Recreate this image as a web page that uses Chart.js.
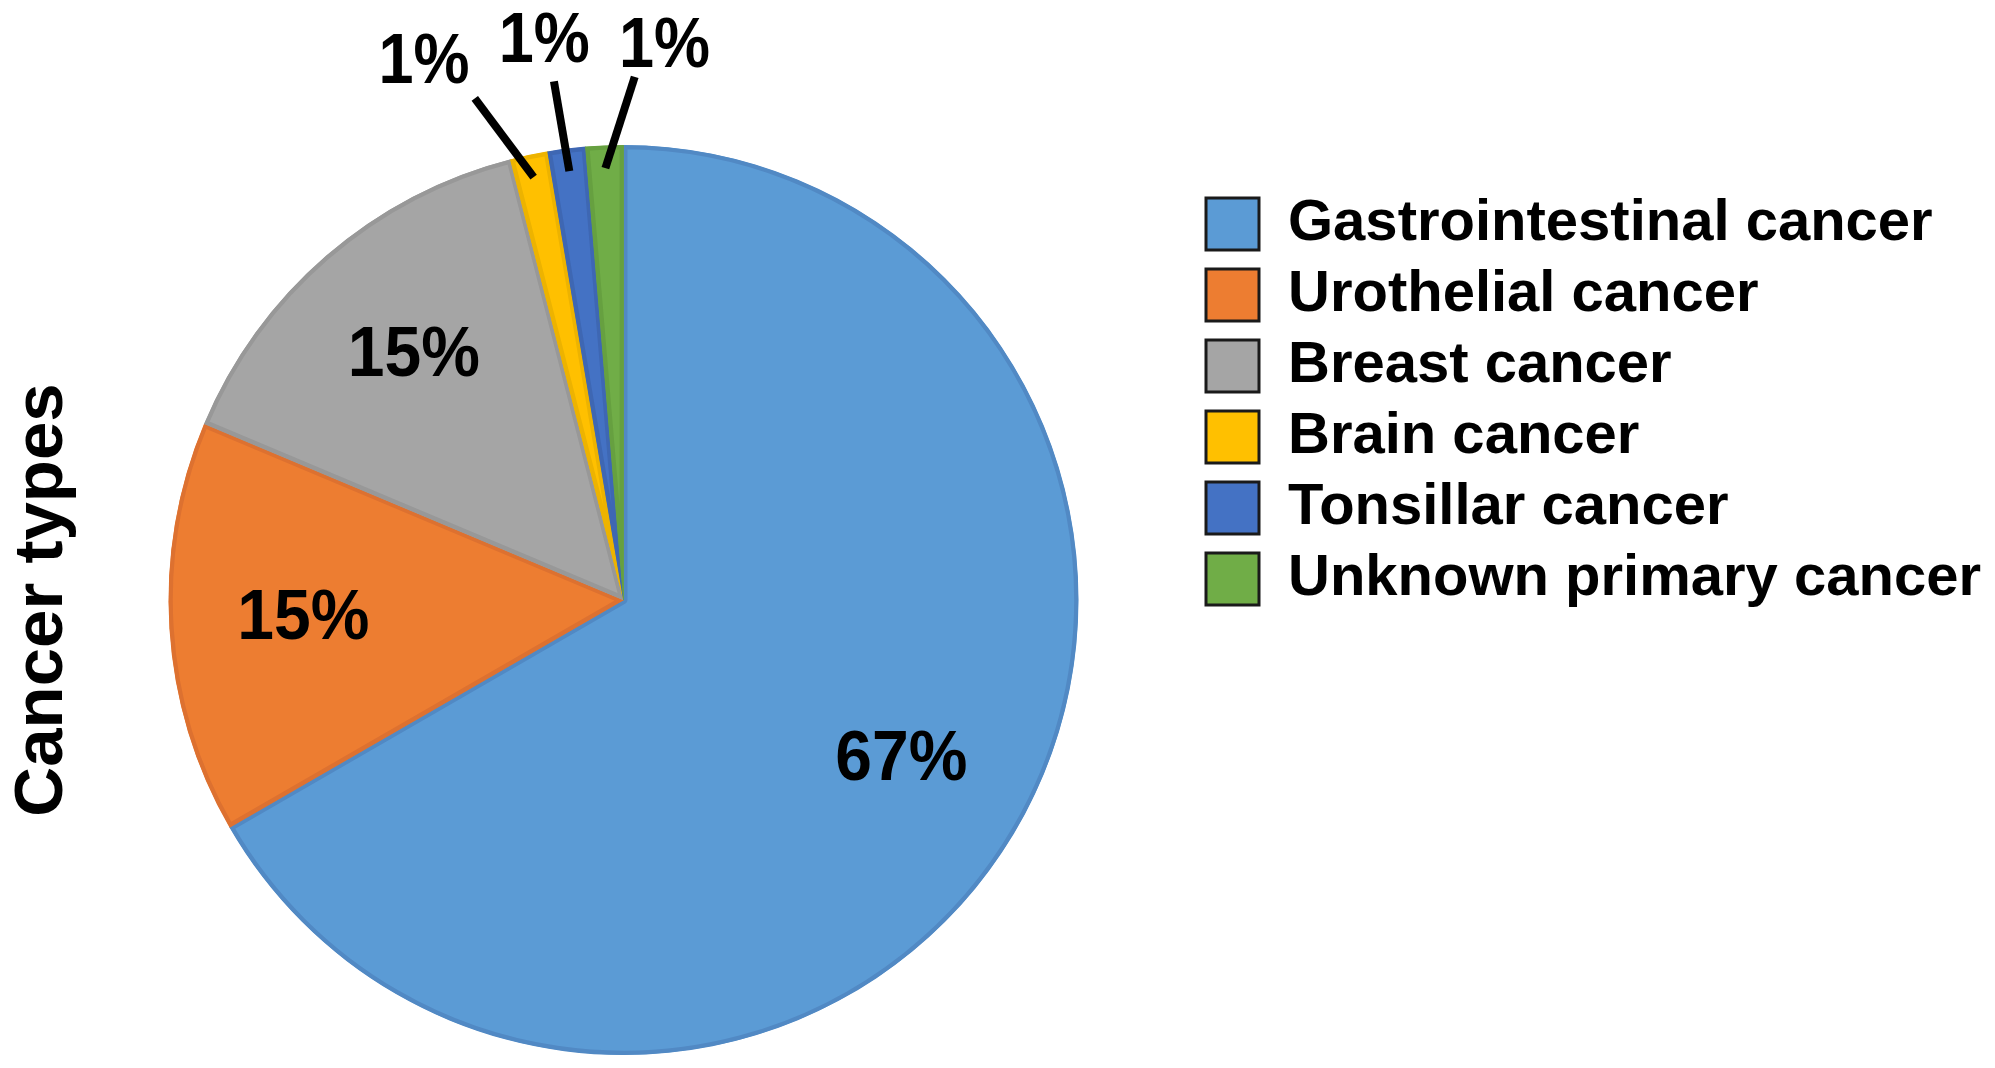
<!DOCTYPE html>
<html>
<head>
<meta charset="utf-8">
<script src="https://cdn.jsdelivr.net/npm/chart.js@4/dist/chart.umd.min.js"></script>
<style>
  html, body { margin: 0; padding: 0; background: #ffffff; }
  #wrap { width: 1995px; height: 1068px; position: relative; }
</style>
</head>
<body>
<div id="wrap"><canvas id="c"></canvas></div>
<script>
// ---- data ----
const categories = [
  "Gastrointestinal cancer",
  "Urothelial cancer",
  "Breast cancer",
  "Brain cancer",
  "Tonsillar cancer",
  "Unknown primary cancer"
];
const patientCounts = [50, 11, 11, 1, 1, 1];
const axisTitle = "Cancer types";

// ---- styles ----
const fillColors   = ["#5B9BD5", "#ED7D31", "#A5A5A5", "#FFC000", "#4472C4", "#70AD47"];
const borderColors = ["#5189C4", "#DD7130", "#989898", "#EDB300", "#3E67B3", "#66A040"];
const FONT = "'Liberation Sans', Arial, Helvetica, sans-serif";

const total = patientCounts.reduce((a, b) => a + b, 0);

function drawStretched(ctx, txt, cx, cy, size, sy) {
  ctx.save();
  ctx.translate(cx, cy);
  ctx.scale(1, sy);
  ctx.font = "bold " + size + "px " + FONT;
  ctx.textAlign = "center";
  ctx.textBaseline = "alphabetic";
  ctx.fillText(txt, 0, size * 0.358);
  ctx.restore();
}

const sliceLabels = {
  id: "sliceLabels",
  afterDatasetsDraw(chart) {
    const ctx = chart.ctx;
    const meta = chart.getDatasetMeta(0);
    ctx.save();
    ctx.fillStyle = "#000";
    const small = [];
    meta.data.forEach((arc, i) => {
      const p = arc.getProps(["x", "y", "startAngle", "endAngle", "outerRadius"], true);
      const share = patientCounts[i] / total;
      const txt = Math.round(share * 100) + "%";
      const mid = (p.startAngle + p.endAngle) / 2;
      if (share > 0.05) {
        const r = p.outerRadius * 0.705;
        drawStretched(ctx, txt, p.x + Math.cos(mid) * r, p.y + Math.sin(mid) * r - 6, 66, 1.07);
      } else {
        small.push({p, mid, txt});
      }
    });
    const deg = Math.PI / 180;
    const spread = 7.4 * deg;
    const skew = -0.8 * deg;
    small.forEach((s, k) => {
      const shift = (k - (small.length - 1) / 2) * spread + skew;
      const R = s.p.outerRadius;
      const la = s.mid + shift;
      const lr = R * (1.27 - 0.02 * k);
      drawStretched(ctx, s.txt, s.p.x + Math.cos(la) * lr, s.p.y + Math.sin(la) * lr, 63, 1.11);
      const sa = s.mid + shift * 0.55;
      ctx.beginPath();
      ctx.lineWidth = 8;
      ctx.strokeStyle = "#000";
      ctx.moveTo(s.p.x + Math.cos(sa) * R * 1.15, s.p.y + Math.sin(sa) * R * 1.15);
      ctx.lineTo(s.p.x + Math.cos(s.mid) * R * 0.95, s.p.y + Math.sin(s.mid) * R * 0.95);
      ctx.stroke();
    });
    ctx.restore();
  }
};

const sideTitle = {
  id: "sideTitle",
  afterDraw(chart) {
    const ctx = chart.ctx;
    const meta = chart.getDatasetMeta(0);
    const cy = meta.data.length ? meta.data[0].y : chart.height / 2;
    ctx.save();
    ctx.translate(62, cy);
    ctx.rotate(-Math.PI / 2);
    ctx.font = "bold 69px " + FONT;
    ctx.fillStyle = "#000";
    ctx.textAlign = "center";
    ctx.textBaseline = "alphabetic";
    ctx.fillText(axisTitle, 0, 0);
    ctx.restore();
  }
};

new Chart(document.getElementById("c"), {
  type: "pie",
  data: {
    labels: categories,
    datasets: [{
      data: patientCounts,
      backgroundColor: fillColors,
      borderColor: borderColors,
      borderWidth: 4,
      borderAlign: "inner"
    }]
  },
  options: {
    responsive: true,
    maintainAspectRatio: false,
    animation: false,
    radius: 455,
    layout: { padding: { top: 182, bottom: 50, left: 54, right: 4 } },
    plugins: {
      tooltip: { enabled: false },
      title: { display: false },
      legend: {
        display: true,
        position: "right",
        align: "start",
        labels: {
          boxWidth: 53,
          boxHeight: 52,
          padding: 13,
          color: "#000",
          font: { family: FONT, size: 58, weight: "bold" },
          generateLabels(chart) {
            const items = Chart.overrides.pie.plugins.legend.labels.generateLabels(chart);
            items.forEach(it => { it.strokeStyle = "#1a1a1a"; it.lineWidth = 3; });
            return items;
          }
        }
      }
    }
  },
  plugins: [sliceLabels, sideTitle]
});
</script>
</body>
</html>
